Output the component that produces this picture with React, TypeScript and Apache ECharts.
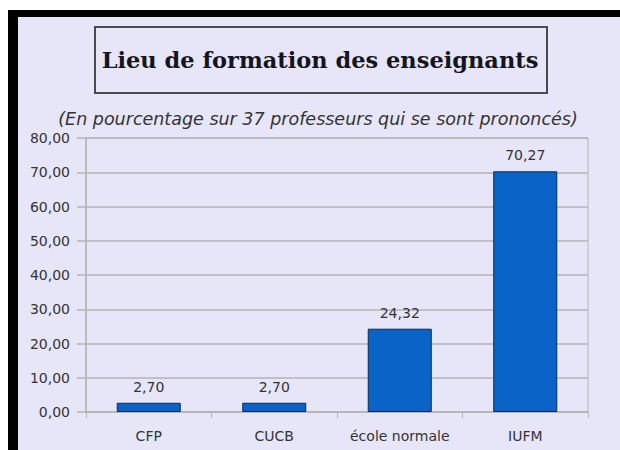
import React, { useEffect, useRef } from "react";
import * as echarts from "echarts";

const categories = ["CFP", "CUCB", "école normale", "IUFM"];
const values = [2.7, 2.7, 24.32, 70.27];
const titleText = "Lieu de formation des enseignants";
const subtitleText = "(En pourcentage sur 37 professeurs qui se sont prononcés)";

const fmt = (v: number) => v.toFixed(2).replace(".", ",");
const SANS = "'DejaVu Sans', 'Liberation Sans', sans-serif";

export default function App() {
  const ref = useRef<HTMLDivElement>(null);
  useEffect(() => {
    if (!ref.current) return;
    const chart = echarts.init(ref.current, undefined, { renderer: "svg" });
    chart.setOption({
      animation: false,
      backgroundColor: "#ffffff",
      textStyle: { fontFamily: SANS },
      graphic: [
        { type: "rect", z: -10, shape: { x: 8, y: 10, width: 620, height: 450 }, style: { fill: "#000000" } },
        { type: "rect", z: -9, shape: { x: 18, y: 17, width: 610, height: 440 }, style: { fill: "#e6e6f8" } },
        {
          type: "rect",
          z: -8,
          shape: { x: 95, y: 27, width: 452, height: 66 },
          style: { fill: "none", stroke: "#4a4a4a", lineWidth: 2 },
        },
        {
          type: "text",
          x: 320,
          y: 60,
          style: {
            text: titleText,
            align: "center",
            verticalAlign: "middle",
            font: "bold 22.5px 'DejaVu Serif', serif",
            fill: "#151520",
          },
        },
        {
          type: "text",
          x: 318,
          y: 119,
          style: {
            text: subtitleText,
            align: "center",
            verticalAlign: "middle",
            font: "italic 17.5px " + SANS,
            fill: "#333333",
          },
        },
      ],
      grid: {
        left: 86,
        right: 32,
        top: 138,
        bottom: 38,
        show: true,
        borderColor: "#b4b4b4",
        borderWidth: 1,
      },
      xAxis: {
        type: "category",
        data: categories,
        axisLine: { lineStyle: { color: "#b4b4b4", width: 1.5 } },
        axisTick: { show: true, alignWithLabel: false, length: 6, lineStyle: { color: "#b4b4b4" } },
        axisLabel: { color: "#333333", fontSize: 14, margin: 17, fontFamily: SANS, interval: 0 },
      },
      yAxis: {
        type: "value",
        min: 0,
        max: 80,
        interval: 10,
        axisLine: { show: true, lineStyle: { color: "#b4b4b4", width: 1.5 } },
        axisTick: { show: true, length: 9, lineStyle: { color: "#b4b4b4", width: 1.5 } },
        splitLine: { lineStyle: { color: "#b4b4b4", width: 1.5 } },
        axisLabel: {
          color: "#333333",
          fontSize: 14,
          margin: 16,
          fontFamily: SANS,
          formatter: (v: number) => fmt(v),
        },
      },
      series: [
        {
          type: "bar",
          data: values,
          barWidth: "51%",
          itemStyle: { color: "#0a64c8", borderColor: "#0a2a55", borderWidth: 1 },
          label: {
            show: true,
            position: "top",
            distance: 9,
            color: "#333333",
            fontSize: 14,
            fontFamily: SANS,
            formatter: (p: any) => fmt(p.value),
          },
        },
      ],
    });
    return () => chart.dispose();
  }, []);
  return (
    <div
      ref={ref}
      style={{ position: "absolute", left: 0, top: 0, width: 620, height: 450 }}
    />
  );
}
